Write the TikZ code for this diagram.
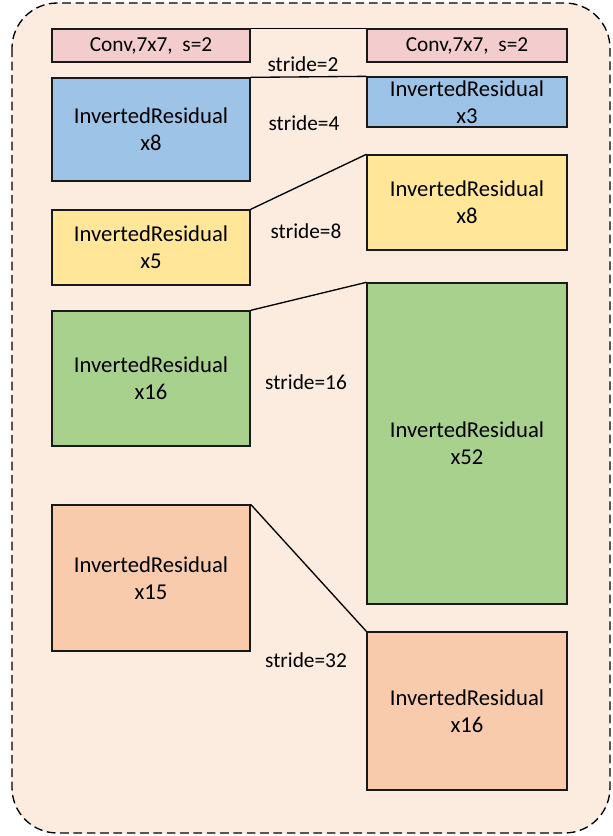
\documentclass[tikz,border=0pt]{standalone}
\usepackage{fontspec}
\setmainfont{Carlito}
\usetikzlibrary{calc}
\definecolor{bgc}{RGB}{252,235,223}
\definecolor{convc}{RGB}{243,205,205}
\definecolor{bluec}{RGB}{157,195,230}
\definecolor{yellowc}{RGB}{255,230,153}
\definecolor{greenc}{RGB}{169,209,142}
\definecolor{orangec}{RGB}{248,203,173}
\tikzset{blk/.style={draw=black!90,line width=1pt,inner sep=0pt,align=center,font=\fontsize{17}{20.5}\selectfont}}
\tikzset{lcol/.style={blk,minimum width=148.5pt}}
\tikzset{rcol/.style={blk,minimum width=150pt}}
\tikzset{cv/.style={font=\fontsize{16}{16}\selectfont}}
\tikzset{lbl/.style={font=\fontsize{16}{16}\selectfont}}

\begin{document}
\begin{tikzpicture}[x=0.75pt,y=-0.75pt]
          \useasboundingbox (0,0) rectangle (612,836);
          \filldraw[draw=black,fill=bgc,line width=1pt,dash pattern=on 6.5pt off 3.5pt,rounded corners=34pt] (12,3) rectangle (610,833);
          % left column
          \node[lcol,cv,fill=convc,minimum height=24.75pt] (convL) at (151,45.5) {Conv,7x7,~~s=2};
          \node[lcol,fill=bluec,minimum height=77.25pt] (blueL) at (151,129.5) {InvertedResidual\\x8};
          \node[lcol,fill=yellowc,minimum height=56.25pt] (yellowL) at (151,247.5) {InvertedResidual\\x5};
          \node[lcol,fill=greenc,minimum height=101.25pt] (greenL) at (151,378.5) {InvertedResidual\\x16};
          \node[lcol,fill=orangec,minimum height=109.5pt] (orangeL) at (151,578) {InvertedResidual\\x15};
          % right column
          \node[rcol,cv,fill=convc,minimum height=24.75pt] (convR) at (467,45.5) {Conv,7x7,~~s=2};
          \node[rcol,fill=bluec,minimum height=37.5pt] (blueR) at (467,102) {InvertedResidual\\x3};
          \node[rcol,fill=yellowc,minimum height=71.25pt] (yellowR) at (467,202.5) {InvertedResidual\\x8};
          \node[rcol,fill=greenc,minimum height=240.75pt] (greenR) at (467,443.5) {InvertedResidual\\x52};
          \node[rcol,fill=orangec,minimum height=118.5pt] (orangeR) at (467,711) {InvertedResidual\\x16};
          % stage links
          \draw[line width=1pt] (convL.north east) -- (convR.north west);
          \draw[line width=1pt] (blueL.north east) -- (blueR.north west);
          \draw[line width=1pt] (yellowL.north east) -- (yellowR.north west);
          \draw[line width=1pt] (greenL.north east) -- (greenR.north west);
          \draw[line width=1pt] (orangeL.north east) -- (orangeR.north west);
          \node[lbl] (s2) at (303,64) {stride=2};
          \node[lbl] (s4) at (304,123) {stride=4};
          \node[lbl] (s8) at (306,231) {stride=8};
          \node[lbl] (s16) at (306,382) {stride=16};
          \node[lbl] (s32) at (306,660) {stride=32};
        \end{tikzpicture}
\end{document}
